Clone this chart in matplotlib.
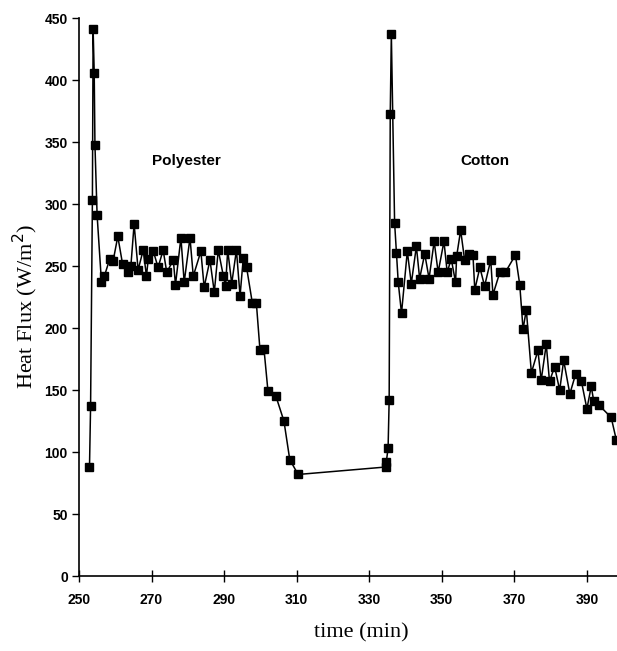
import matplotlib
matplotlib.use("Agg")
import matplotlib.pyplot as plt

# heat flux trace (time in min, flux in W/m2)
time_min = [
    252.9, 253.2, 253.7, 253.9, 254.2, 254.4, 255.0,
    256.2, 257.0, 258.5, 259.4, 260.7, 262.0, 263.6, 264.3, 265.2, 266.3,
    267.7, 268.6, 269.1, 270.5, 271.8, 273.2, 274.2, 276.0, 276.6, 278.1,
    279.0, 280.6, 281.5, 283.6, 284.5, 286.1, 287.3, 288.4, 289.8, 290.4,
    291.0, 292.1, 293.4, 294.4, 295.3, 296.2, 297.8, 298.9,
    299.9, 301.0, 302.1, 304.3, 306.5, 308.1, 310.4,
    334.5, 334.7, 335.2, 335.5, 335.8, 336.1,
    337.0, 337.5, 338.0, 338.9, 340.5, 341.6, 343.0, 343.9, 345.3, 346.5,
    347.9, 349.0, 350.6, 351.5, 352.6, 353.8, 354.1, 355.2, 356.3, 357.4,
    358.6, 359.1, 360.5, 361.8, 363.5, 364.1, 366.0, 367.5, 370.3, 371.5,
    372.4, 373.3, 374.7, 376.5, 377.4, 378.8, 379.7, 381.1, 382.5, 383.6,
    385.3, 386.9, 388.5, 390.0, 391.2, 391.9, 393.3, 396.7, 398.1,
]
heat_flux = [
    88, 137, 303, 441, 406, 348, 291,
    237, 242, 256, 254, 274, 252, 245, 250, 284, 247,
    263, 242, 256, 262, 249, 263, 245, 255, 235, 273,
    237, 273, 242, 262, 233, 255, 229, 263, 242, 234,
    263, 236, 263, 226, 257, 249, 220, 220,
    182, 183, 149, 145, 125, 94, 82,
    88, 92, 103, 142, 373, 437,
    285, 261, 237, 212, 262, 236, 266, 240, 260, 240,
    270, 245, 270, 245, 256, 237, 258, 279, 255, 260,
    259, 231, 249, 234, 255, 227, 245, 245, 259, 235,
    199, 215, 164, 182, 158, 187, 157, 169, 150, 174,
    147, 163, 157, 135, 153, 141, 138, 128, 110,
]

x_ticks = [250, 270, 290, 310, 330, 350, 370, 390]
y_ticks = [0, 50, 100, 150, 200, 250, 300, 350, 400, 450]

fig = plt.figure(figsize=(6.17, 6.51), dpi=100)
ax = fig.add_axes([0.128, 0.115, 0.872, 0.857])

ax.plot(time_min, heat_flux, color="black", lw=1.1,
        marker="s", ms=6, mfc="black", mec="black")

ax.text(279.5, 335, "Polyester", ha="center", va="center",
        fontsize=11, fontweight="bold", family="Liberation Sans")
ax.text(362, 335, "Cotton", ha="center", va="center",
        fontsize=11, fontweight="bold", family="Liberation Sans")

ax.set_xlim(250, 398.3)
ax.set_ylim(0, 450)
ax.set_xticks(x_ticks)
ax.set_yticks(y_ticks)

for lab in ax.get_xticklabels() + ax.get_yticklabels():
    lab.set_fontfamily("Liberation Sans")
    lab.set_fontweight("bold")
    lab.set_fontsize(10)

ax.tick_params(axis="y", direction="out", length=5, width=1, pad=3)
ax.tick_params(axis="x", direction="inout", length=8, width=1, pad=8)

ax.spines["top"].set_visible(False)
ax.spines["right"].set_visible(False)
ax.spines["left"].set_linewidth(1.2)
ax.spines["bottom"].set_linewidth(1.2)

ax.set_xlabel("time (min)", fontsize=16, family="Liberation Serif")
ax.set_ylabel("Heat Flux (W/m$^2$)", fontsize=16, family="Liberation Serif")
ax.xaxis.set_label_coords(0.524, -0.085)
ax.yaxis.set_label_coords(-0.072, 0.484)

fig.savefig("out.png", dpi=100)
